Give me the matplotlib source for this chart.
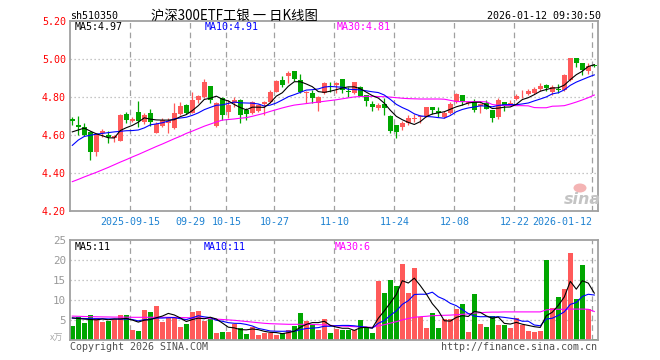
import matplotlib
matplotlib.use('Agg')
import matplotlib.pyplot as plt
from matplotlib.patches import Ellipse
from matplotlib.transforms import blended_transform_factory

# ---- data (one value per trading day, 2025-09-01 .. 2026-01-12) ----
opens = [4.687, 4.654, 4.642, 4.616, 4.514, 4.611, 4.604, 4.584, 4.572, 4.712,
         4.675, 4.723, 4.672, 4.719, 4.614, 4.649, 4.663, 4.640, 4.711, 4.760,
         4.716, 4.786, 4.804, 4.860, 4.649, 4.798, 4.724, 4.768, 4.786, 4.735,
         4.716, 4.730, 4.765, 4.777, 4.830, 4.891, 4.912, 4.939, 4.891, 4.825,
         4.825, 4.772, 4.825, 4.860, 4.866, 4.895, 4.832, 4.825, 4.856, 4.812,
         4.765, 4.746, 4.763, 4.702, 4.654, 4.642, 4.667, 4.686, 4.695, 4.700,
         4.747, 4.728, 4.698, 4.716, 4.777, 4.812, 4.770, 4.777, 4.755, 4.768,
         4.733, 4.698, 4.777, 4.760, 4.789, 4.810, 4.818, 4.825, 4.842, 4.865,
         4.830, 4.844, 4.839, 4.891, 5.005, 4.979, 4.940, 4.970]
highs = [4.695, 4.703, 4.667, 4.620, 4.610, 4.632, 4.623, 4.602, 4.711, 4.721,
         4.698, 4.781, 4.716, 4.737, 4.670, 4.690, 4.690, 4.772, 4.777, 4.763,
         4.830, 4.812, 4.895, 4.862, 4.775, 4.804, 4.785, 4.800, 4.790, 4.742,
         4.780, 4.765, 4.780, 4.836, 4.892, 4.912, 4.939, 4.941, 4.923, 4.832,
         4.839, 4.805, 4.882, 4.882, 4.882, 4.897, 4.856, 4.879, 4.860, 4.812,
         4.782, 4.768, 4.795, 4.707, 4.654, 4.675, 4.705, 4.712, 4.707, 4.751,
         4.747, 4.751, 4.730, 4.777, 4.825, 4.812, 4.782, 4.789, 4.768, 4.786,
         4.733, 4.798, 4.777, 4.786, 4.818, 4.839, 4.842, 4.853, 4.877, 4.872,
         4.865, 4.868, 4.923, 5.005, 5.005, 4.979, 4.979, 4.975]
lows = [4.655, 4.602, 4.596, 4.470, 4.491, 4.589, 4.558, 4.567, 4.568, 4.665,
        4.672, 4.646, 4.660, 4.649, 4.610, 4.642, 4.610, 4.633, 4.707, 4.711,
        4.716, 4.768, 4.795, 4.768, 4.646, 4.681, 4.690, 4.750, 4.667, 4.681,
        4.712, 4.725, 4.705, 4.770, 4.826, 4.856, 4.874, 4.884, 4.821, 4.772,
        4.772, 4.728, 4.818, 4.830, 4.825, 4.821, 4.800, 4.818, 4.807, 4.754,
        4.728, 4.735, 4.705, 4.614, 4.588, 4.628, 4.655, 4.672, 4.663, 4.695,
        4.712, 4.695, 4.693, 4.712, 4.768, 4.760, 4.762, 4.725, 4.716, 4.737,
        4.672, 4.684, 4.730, 4.755, 4.786, 4.795, 4.812, 4.818, 4.835, 4.835,
        4.812, 4.825, 4.835, 4.888, 4.958, 4.918, 4.923, 4.962]
closes = [4.677, 4.644, 4.600, 4.514, 4.607, 4.625, 4.589, 4.596, 4.707, 4.681,
          4.686, 4.677, 4.707, 4.672, 4.662, 4.681, 4.677, 4.716, 4.754, 4.716,
          4.786, 4.807, 4.882, 4.786, 4.770, 4.707, 4.759, 4.786, 4.707, 4.712,
          4.777, 4.760, 4.777, 4.830, 4.888, 4.865, 4.930, 4.895, 4.830, 4.830,
          4.795, 4.800, 4.877, 4.856, 4.874, 4.839, 4.828, 4.879, 4.807, 4.781,
          4.751, 4.760, 4.745, 4.625, 4.617, 4.663, 4.689, 4.690, 4.700, 4.749,
          4.733, 4.720, 4.716, 4.765, 4.816, 4.777, 4.777, 4.735, 4.765, 4.740,
          4.689, 4.786, 4.760, 4.772, 4.807, 4.814, 4.835, 4.844, 4.860, 4.851,
          4.853, 4.840, 4.918, 5.005, 4.979, 4.944, 4.965, 4.967]

ma5 = [4.618, 4.628, 4.638, 4.622, 4.608, 4.598, 4.587, 4.586, 4.625, 4.640,
       4.652, 4.669, 4.692, 4.685, 4.681, 4.680, 4.680, 4.682, 4.698, 4.709,
       4.730, 4.756, 4.789, 4.795, 4.806, 4.790, 4.781, 4.762, 4.746, 4.734,
       4.748, 4.748, 4.747, 4.771, 4.806, 4.824, 4.858, 4.882, 4.882, 4.870,
       4.856, 4.830, 4.826, 4.832, 4.840, 4.849, 4.855, 4.855, 4.845, 4.827,
       4.809, 4.796, 4.769, 4.732, 4.700, 4.682, 4.668, 4.657, 4.672, 4.698,
       4.712, 4.718, 4.724, 4.737, 4.750, 4.759, 4.770, 4.774, 4.774, 4.759,
       4.741, 4.743, 4.748, 4.749, 4.763, 4.788, 4.798, 4.814, 4.832, 4.841,
       4.849, 4.850, 4.864, 4.893, 4.919, 4.937, 4.962, 4.972]
ma10 = [4.547, 4.575, 4.594, 4.600, 4.606, 4.610, 4.614, 4.618, 4.621, 4.624,
        4.625, 4.628, 4.639, 4.655, 4.660, 4.666, 4.675, 4.687, 4.691, 4.695,
        4.705, 4.718, 4.735, 4.747, 4.758, 4.760, 4.768, 4.775, 4.771, 4.770,
        4.769, 4.765, 4.754, 4.759, 4.770, 4.786, 4.803, 4.814, 4.826, 4.838,
        4.840, 4.844, 4.854, 4.857, 4.855, 4.853, 4.842, 4.841, 4.839, 4.834,
        4.829, 4.825, 4.812, 4.789, 4.763, 4.746, 4.732, 4.713, 4.702, 4.699,
        4.697, 4.693, 4.690, 4.704, 4.724, 4.736, 4.744, 4.749, 4.755, 4.754,
        4.750, 4.757, 4.761, 4.762, 4.761, 4.765, 4.770, 4.781, 4.791, 4.802,
        4.818, 4.824, 4.839, 4.863, 4.880, 4.893, 4.906, 4.918]
ma30 = [4.356, 4.368, 4.381, 4.393, 4.405, 4.418, 4.431, 4.445, 4.459, 4.472,
        4.486, 4.499, 4.513, 4.527, 4.541, 4.554, 4.568, 4.582, 4.595, 4.610,
        4.622, 4.635, 4.648, 4.659, 4.670, 4.680, 4.683, 4.686, 4.690, 4.693,
        4.700, 4.708, 4.716, 4.726, 4.735, 4.744, 4.752, 4.759, 4.763, 4.767,
        4.771, 4.775, 4.779, 4.783, 4.787, 4.792, 4.797, 4.802, 4.804, 4.805,
        4.805, 4.804, 4.803, 4.801, 4.798, 4.795, 4.793, 4.792, 4.791, 4.791,
        4.791, 4.791, 4.790, 4.784, 4.778, 4.777, 4.777, 4.777, 4.777, 4.776,
        4.762, 4.758, 4.757, 4.757, 4.756, 4.756, 4.755, 4.746, 4.745, 4.745,
        4.753, 4.754, 4.756, 4.765, 4.775, 4.786, 4.798, 4.812]

volumes = [3.6, 5.75, 4.4, 6.3, 5.5, 4.65, 4.9, 5.25, 6.3, 6.3,
           2.6, 2.3, 7.6, 7.1, 8.6, 4.65, 5.65, 5.65, 3.4, 4.1,
           7.15, 7.4, 4.9, 5.3, 1.9, 2.15, 2.15, 4.0, 3.15, 1.6,
           3.25, 1.3, 1.9, 1.9, 1.3, 1.9, 2.6, 3.6, 6.9, 4.9,
           4.1, 2.6, 5.3, 1.75, 2.8, 2.6, 2.6, 2.6, 5.1, 3.25,
           1.75, 14.8, 11.9, 15.1, 13.6, 19.1, 11.9, 18.0, 5.75, 3.2,
           6.9, 3.2, 5.4, 5.3, 7.8, 9.1, 2.2, 11.7, 4.1, 3.4,
           6.1, 3.8, 3.8, 3.2, 5.5, 3.8, 2.3, 2.2, 2.3, 20.1,
           8.2, 10.8, 12.8, 21.8, 10.3, 18.8, 7.75, 0.3]
vol_ma5 = [5.6, 5.45, 5.3, 5.2, 5.11, 5.32, 5.15, 5.32, 5.32, 5.48,
           5.07, 4.55, 5.02, 5.18, 5.64, 6.05, 6.72, 6.33, 5.59, 4.69,
           5.19, 5.54, 5.39, 5.77, 5.33, 4.33, 3.28, 3.10, 2.67, 2.61,
           2.83, 2.66, 2.24, 1.99, 1.93, 1.66, 1.92, 2.26, 3.26, 3.98,
           4.42, 4.42, 4.76, 3.73, 3.31, 3.01, 3.01, 2.47, 3.14, 3.23,
           3.06, 5.50, 7.36, 9.36, 11.43, 14.90, 14.32, 15.54, 13.67, 11.59,
           9.15, 7.41, 4.89, 4.80, 5.72, 6.16, 5.96, 7.22, 6.98, 6.10,
           5.50, 5.82, 4.24, 4.06, 4.48, 4.02, 3.72, 3.40, 3.22, 6.14,
           7.02, 8.72, 10.84, 14.74, 12.78, 14.90, 14.29, 11.79]
vol_ma10 = [5.55, 5.5, 5.45, 5.4, 5.4, 5.4, 5.35, 5.35, 5.3, 5.30,
            5.20, 4.85, 5.17, 5.25, 5.56, 5.56, 5.64, 5.68, 5.39, 5.17,
            5.62, 6.13, 5.86, 5.68, 5.01, 4.76, 4.41, 4.25, 4.22, 3.97,
            3.58, 2.97, 2.67, 2.33, 2.27, 2.25, 2.29, 2.25, 2.63, 2.96,
            3.04, 3.17, 3.51, 3.50, 3.65, 3.72, 3.72, 3.62, 3.44, 3.27,
            3.04, 4.26, 4.92, 6.25, 7.33, 8.98, 9.91, 11.45, 11.52, 11.51,
            12.03, 10.87, 10.22, 9.24, 8.66, 7.66, 6.69, 6.06, 5.89, 5.91,
            5.83, 5.89, 5.73, 5.52, 5.29, 4.76, 4.77, 3.82, 3.64, 5.31,
            5.52, 6.22, 7.12, 8.98, 9.46, 10.96, 11.51, 11.32]
vol_ma30 = [6.05, 6.0, 5.95, 5.9, 5.88, 5.85, 5.83, 5.8, 5.8, 5.78,
            5.75, 5.75, 5.75, 5.75, 5.75, 5.75, 5.75, 5.72, 5.7, 5.65,
            5.6, 5.55, 5.5, 5.4, 5.3, 5.2, 5.1, 5.0, 4.85, 4.7,
            4.55, 4.4, 4.25, 4.15, 4.1, 4.05, 4.0, 4.0, 4.0, 4.0,
            3.95, 3.9, 3.85, 3.75, 3.6, 3.55, 3.5, 3.4, 3.35, 3.3,
            3.25, 3.6, 3.9, 4.3, 4.65, 5.1, 5.45, 5.75, 5.9, 6.0,
            6.15, 6.2, 6.25, 6.3, 6.4, 6.5, 6.6, 6.8, 6.9, 7.0,
            7.05, 7.05, 7.1, 7.1, 7.1, 7.1, 7.1, 7.1, 7.1, 7.6,
            7.75, 7.75, 7.75, 7.8, 7.8, 7.8, 7.75, 7.2]

tick_pos = [10, 20, 26, 34, 44, 54, 64, 74, 87]
tick_labels = ['2025-09-15', '09-29', '10-15', '10-27', '11-10',
               '11-24', '12-08', '12-22', '2026-01-12']
price_ticks = [4.20, 4.40, 4.60, 4.80, 5.00, 5.20]
vol_ticks = [5, 10, 15, 20, 25]

# ---- style ----
RED = '#ff5a5a'
GREEN = '#00a600'
FRAME = '#a0a0a0'
GRID = '#b4b4b4'
MONO = 'DejaVu Sans Mono'
CJK = ['Noto Sans CJK SC', 'DejaVu Sans']
LW = 0.8

W, H = 660, 360
fig = plt.figure(figsize=(6.6, 3.6), dpi=100)
fig.patch.set_facecolor('white')


def fx(px):
    return px / W


def fy(py):
    return 1 - py / H


left, right = 70, 597.7
ax = fig.add_axes([fx(left), fy(211.3), (right - left) / W, 190 / H])
axv = fig.add_axes([fx(left), fy(340.3), (right - left) / W, 100 / H])

n = len(closes)
xs = list(range(n))
up = [c >= o for o, c in zip(opens, closes)]
cols = [RED if u else GREEN for u in up]
xmin, xmax = (left - 72.3) / 6, (right - 72.3) / 6

for a in (ax, axv):
    a.set_xlim(xmin, xmax)
    a.set_xticks([])
    for s in a.spines.values():
        s.set_color(FRAME)
        s.set_linewidth(1.3)
    for t in tick_pos:
        a.axvline(t - 0.33, color=FRAME, lw=0.9, ls=(0, (4.5, 3.2)), zorder=0)

# price panel
ax.set_ylim(4.20, 5.20)
for v in price_ticks[1:-1]:
    ax.axhline(v, color=GRID, lw=0.9, ls=(0, (1, 2.2)), zorder=0)
ax.set_yticks(price_ticks)
ax.set_yticklabels([f'{v:.2f}' for v in price_ticks], color='red',
                   fontfamily=MONO, fontsize=7.2)
ax.tick_params(axis='y', length=0, pad=3)

ax.vlines(xs, lows, highs, colors=cols, lw=0.9, zorder=2)
bottoms = [min(o, c) for o, c in zip(opens, closes)]
heights = [max(abs(c - o), 0.004) for o, c in zip(opens, closes)]
ax.bar(xs, heights, bottom=bottoms, width=0.78, color=cols, linewidth=0, zorder=3)

ax.plot(xs, ma30, color='#ff00ff', lw=LW, zorder=4)
ax.plot(xs, ma10, color='#0000ff', lw=LW, zorder=4)
ax.plot(xs, ma5, color='black', lw=LW, zorder=4)

trans = blended_transform_factory(ax.transData, ax.transAxes)
for t, lab in zip(tick_pos, tick_labels):
    ha = 'right' if t == tick_pos[-1] else 'center'
    ax.text(t - 0.33, -0.056, lab, transform=trans, ha=ha, va='center',
            color='#1e82d2', fontfamily=MONO, fontsize=7.2)

# volume panel
axv.set_ylim(0, 25)
for v in vol_ticks[:-1]:
    axv.axhline(v, color=GRID, lw=0.9, ls=(0, (1, 2.2)), zorder=0)
axv.set_yticks(vol_ticks)
axv.set_yticklabels([str(v) for v in vol_ticks], color='#999999',
                    fontfamily=MONO, fontsize=7.8)
axv.tick_params(axis='y', length=0, pad=3)
axv.bar(xs, volumes, width=0.84, color=cols, linewidth=0, zorder=2)
axv.plot(xs, vol_ma30, color='#ff00ff', lw=LW, zorder=4)
axv.plot(xs, vol_ma10, color='#0000ff', lw=LW, zorder=4)
axv.plot(xs, vol_ma5, color='black', lw=LW, zorder=4)

# texts
fig.text(fx(70), fy(16), 'sh510350', fontfamily=MONO, fontsize=7.2, va='center')
fig.text(fx(151), fy(16), '沪深300ETF工银 一 日K线图', family=CJK, fontsize=9.6,
         va='center')
fig.text(fx(601), fy(16), '2026-01-12 09:30:50', fontfamily=MONO, fontsize=7.2,
         va='center', ha='right')

ma_lbl = [(75, 'MA5:4.97', 'black'), (205, 'MA10:4.91', '#0000ff'),
          (337, 'MA30:4.81', '#ff00ff')]
for px, s, c in ma_lbl:
    fig.text(fx(px), fy(27.5), s, color=c, fontfamily=MONO, fontsize=7.2, va='center')
vma_lbl = [(75, 'MA5:11', 'black'), (204, 'MA10:11', '#0000ff'),
           (335, 'MA30:6', '#ff00ff')]
for px, s, c in vma_lbl:
    fig.text(fx(px), fy(246.5), s, color=c, fontfamily=MONO, fontsize=7.2, va='center')

fig.text(fx(57), fy(338), 'x万', family=CJK, fontsize=6.5, color='#aaaaaa',
         ha='center', va='center', style='italic')
fig.text(fx(70), fy(346.5), 'Copyright 2026 SINA.COM', fontfamily=MONO,
         fontsize=7.2, color='#505050', va='center')
fig.text(fx(597), fy(346.5), 'http://finance.sina.com.cn', fontfamily=MONO,
         fontsize=7.2, color='#505050', va='center', ha='right')

# faint sina watermark
fig.add_artist(Ellipse((fx(580), fy(188)), 13 / W, 9 / H, transform=fig.transFigure,
                       facecolor='#f4b4b4', edgecolor='none'))
fig.text(fx(582), fy(200), 'sina', fontsize=11.5, color='#c4c4c4', ha='center',
         va='center', style='italic', weight='bold')

fig.savefig('out.png', dpi=100)
